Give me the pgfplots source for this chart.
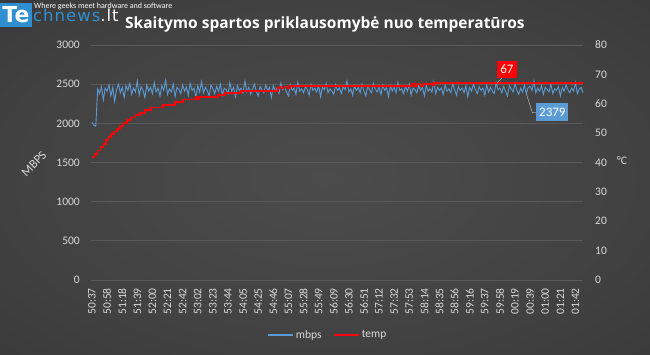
\documentclass[border=0pt]{standalone}
\usepackage{pgfplots}
\pgfplotsset{compat=1.18}
\usepackage{fontspec}
\setmainfont{Carlito}
\newfontfamily\logofont{DejaVu Sans}
\newfontfamily\titlefont{Open Sans}
\definecolor{bgA}{HTML}{4C4C4C}
\definecolor{bgB}{HTML}{414141}
\definecolor{bgC}{HTML}{323232}
\definecolor{bgD}{HTML}{262626}
\definecolor{gridc}{HTML}{5A5A5A}
\definecolor{tickc}{HTML}{D9D9D9}
\definecolor{blueC}{HTML}{5B9BD5}
\definecolor{logoblue}{HTML}{2F8FD0}
\definecolor{leaderc}{HTML}{A6A6A6}
\pgfdeclareradialshading{bgshade}{\pgfpoint{0bp}{0bp}}{color(0bp)=(bgA); color(25bp)=(bgB); color(50bp)=(bgC); color(72bp)=(bgD)}
\begin{document}
\begin{tikzpicture}[x=1pt,y=1pt]
\shade[shading=bgshade] (0,0) rectangle (650,355);
\begin{axis}[
  at={(91pt,75pt)}, anchor=south west, scale only axis,
  width=492pt, height=235pt,
  xmin=-0.066, xmax=32.5, ymin=0, ymax=3000,
  xtick={0,...,32},
  xticklabels={50:37,50:58,51:18,51:39,52:00,52:21,52:42,53:02,53:23,53:44,54:05,54:25,54:46,55:07,55:28,55:49,56:09,56:30,56:51,57:12,57:32,57:53,58:14,58:35,58:56,59:16,59:37,59:58,00:19,00:39,01:00,01:21,01:42},
  ytick={0,500,...,3000},
  ymajorgrids, grid style={color=gridc, line width=0.8pt},
  axis line style={draw=none}, major tick length=0pt,
  tick label style={font=\fontsize{11.5}{13}\selectfont, text=tickc},
  /pgf/number format/assume math mode=true,
  /pgf/number format/set thousands separator={},
  xticklabel style={rotate=90, anchor=east, inner sep=0pt},
  xticklabel shift=8pt,
  yticklabel style={anchor=east, inner sep=0pt},
  yticklabel shift=11pt,
  clip=false,
  legend style={at={(0.482,-0.234)}, anchor=center, draw=none, fill=none,
    legend columns=2, font=\fontsize{11.5}{13}\selectfont, text=tickc,
    /tikz/every even column/.append style={column sep=10pt}},
  legend image code/.code={\draw[#1] (0pt,0pt) -- (25pt,0pt);},
]
\addplot[color=blueC, line width=0.9pt, forget plot] table[row sep=\\, header=false, x expr=\coordindex*0.125, y index=0]{
2015\\1975\\1962\\
2440\\2380\\2470\\2300\\2450\\2410\\2490\\2350\\2460\\2280\\2430\\2500\\2390\\2460\\2330\\2480\\
2420\\2510\\2370\\2450\\2400\\2540\\2360\\2470\\2420\\2330\\2490\\2410\\2460\\2380\\2520\\2400\\
2450\\2350\\2480\\2420\\2550\\2370\\2440\\2400\\2500\\2340\\2460\\2430\\2380\\2490\\2410\\2460\\
2360\\2510\\2420\\2450\\2330\\2480\\2400\\2530\\2390\\2460\\2420\\2350\\2490\\2440\\2380\\2470\\
2410\\2500\\2360\\2450\\2430\\2380\\2520\\2410\\2460\\2340\\2480\\2420\\2450\\2390\\2540\\2400\\
2460\\2370\\2440\\2500\\2410\\2350\\2470\\2430\\2390\\2490\\2420\\2460\\2330\\2480\\2410\\2450\\
2380\\2510\\2430\\2460\\2400\\2350\\2490\\2420\\2450\\2370\\2520\\2410\\2440\\2390\\2470\\2430\\
2360\\2500\\2420\\2450\\2400\\2480\\2340\\2460\\2430\\2510\\2390\\2440\\2410\\2370\\2490\\2420\\
2450\\2380\\2470\\2430\\2540\\2400\\2440\\2360\\2480\\2420\\2460\\2390\\2500\\2410\\2350\\2470\\
2430\\2390\\2510\\2440\\2400\\2460\\2370\\2490\\2420\\2450\\2340\\2480\\2410\\2460\\2390\\2520\\
2420\\2440\\2380\\2470\\2410\\2500\\2360\\2450\\2430\\2390\\2480\\2420\\2460\\2350\\2490\\2410\\
2440\\2400\\2530\\2380\\2460\\2420\\2450\\2370\\2490\\2410\\2440\\2390\\2510\\2430\\2360\\2470\\
2420\\2450\\2390\\2480\\2340\\2460\\2410\\2500\\2430\\2380\\2470\\2420\\2450\\2360\\2490\\2400\\
2460\\2410\\2380\\2520\\2430\\2450\\2390\\2470\\2410\\2350\\2480\\2440\\2400\\2510\\2420\\2370\\
2450\\2400\\2490\\2379\\2460\\2470\\2420\\2540\\2390\\2450\\2410\\2480\\2370\\2460\\2430\\2400\\
2500\\2380\\2440\\2420\\2470\\2350\\2460\\2410\\2490\\2430\\2390\\2450\\2410\\2520\\2380\\2440\\
2460\\2390\\
};
\addlegendimage{color=blueC, line width=1.1pt}
\addlegendentry{mbps}
\addlegendimage{color=red, line width=1.1pt}
\addlegendentry{temp}
\node[rotate=45, text=tickc, font=\fontsize{12.5}{14}\selectfont] at (rel axis cs:-0.116,0.494) {MBPS};
\draw[leaderc, line width=0.6pt] (axis cs:28.75,2379) -- ++(6pt,-19pt) -- ++(4pt,0pt);
\node[fill=blueC, text=white, minimum width=32pt, minimum height=18pt, inner sep=0pt, font=\fontsize{13}{14}\selectfont] at ([xshift=26pt,yshift=-18.5pt]axis cs:28.75,2379) {2379};
\end{axis}
\begin{axis}[
  at={(91pt,75pt)}, anchor=south west, scale only axis,
  width=492pt, height=235pt,
  xmin=-0.066, xmax=32.5, ymin=0, ymax=80,
  xtick=\empty,
  ytick={0,10,...,80},
  axis line style={draw=none}, major tick length=0pt,
  tick label style={font=\fontsize{11.5}{13}\selectfont, text=tickc},
  /pgf/number format/assume math mode=true,
  yticklabel pos=right,
  yticklabel style={anchor=west, inner sep=0pt},
  yticklabel shift=12pt,
  clip=false,
]
\addplot[color=red, line width=1.7pt, const plot] coordinates {
(0,41.9)(0.17,42.9)(0.36,44.1)(0.56,45.3)(0.76,46.4)(0.93,47.6)(1.09,48.7)(1.26,49.7)
(1.45,50.6)(1.65,51.4)(1.85,52.4)(2.08,53.5)(2.31,54.4)(2.58,55.3)(2.88,56.1)(3.17,56.9)
(3.50,57.8)(3.90,58.7)(4.69,59.6)(5.49,60.7)(6.02,61.4)(6.90,62.2)(6.98,61.5)(7.08,62.2)
(8.33,63.0)(8.79,63.7)(9.85,64.4)(12.30,65.4)(12.45,65.9)(12.60,65.4)(12.75,65.9)(12.95,65.4)(13.10,66.0)
(21.20,66.8)(21.40,66.0)(21.55,66.8)(21.75,66.0)(21.95,66.8)(22.55,66.2)(22.65,67.0)(32.5,67.0)
};
\node[text=tickc, font=\fontsize{11.5}{13}\selectfont] at (rel axis cs:1.079,0.506) {°C};
\draw[leaderc, line width=0.6pt] (axis cs:26.8,67) -- ++(5pt,5pt);
\node[fill=red, text=white, minimum width=20pt, minimum height=17pt, inner sep=0pt, font=\fontsize{13}{14}\selectfont] at ([xshift=10pt,yshift=14pt]axis cs:26.8,67) {67};
\end{axis}
% logo and title
\fill[logoblue] (0,328) rectangle (32,352);
\node[anchor=base, text=white, font=\logofont\bfseries\fontsize{22}{24}\selectfont, inner sep=0pt] at (16,332) {Te};
\node[anchor=base west, inner sep=0pt, font=\logofont\addfontfeature{LetterSpace=6}\fontsize{16.5}{18}\selectfont] at (33,333) {\textcolor{logoblue}{chnews}\textcolor{white}{.lt}};
\node[anchor=base west, inner sep=0pt, text=white, font=\fontsize{8}{9}\selectfont] at (34,346) {Where geeks meet hardware and software};
\node[anchor=base west, inner sep=0pt, text=white, font=\titlefont\bfseries\fontsize{15.5}{17}\selectfont] at (125,326) {Skaitymo spartos priklausomybė nuo temperatūros};
\pgfresetboundingbox
\path (0,0) rectangle (650,355);
\end{tikzpicture}
\end{document}
